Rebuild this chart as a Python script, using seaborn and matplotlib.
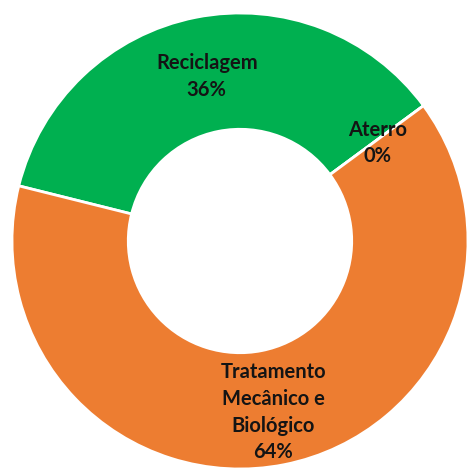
import matplotlib
matplotlib.use("Agg")
import matplotlib.pyplot as plt
import seaborn as sns

# dados do grafico
categorias = ["Reciclagem", "Aterro", "Tratamento\nMecânico e\nBiológico"]
valores = [36, 0, 64]
percentuais = ["36%", "0%", "64%"]
cores = ["#00B050", "#ED7D31", "#ED7D31"]

sns.set_theme(style="white")
plt.rcParams["font.family"] = ["Lato", "DejaVu Sans"]

fig = plt.figure(figsize=(4.71, 4.69), dpi=100)
ax = fig.add_axes([0, 0, 1, 1])

rotulos = [f"{c}\n{p}" for c, p in zip(categorias, percentuais)]
wedges, textos = ax.pie(
    valores,
    labels=rotulos,
    colors=cores,
    startangle=166,
    counterclock=False,
    radius=1.0,
    labeldistance=0.75,
    wedgeprops=dict(width=0.51, edgecolor="white", linewidth=2),
    textprops=dict(fontsize=14.5, fontweight="bold", color="#141414",
                   ha="center", va="center", linespacing=1.42),
)
# rotulos um pouco mais abaixo, como no original
for t in textos:
    t.set_horizontalalignment("center")
    t.set_verticalalignment("center")
    t.set_y(t.get_position()[1] - 0.015)

ax.set_aspect("auto")
ax.set_xlim(-1.0526, 1.0132)
ax.set_ylim(-1.0, 1.057)
ax.axis("off")

fig.savefig("out.png", dpi=100, facecolor="white")
